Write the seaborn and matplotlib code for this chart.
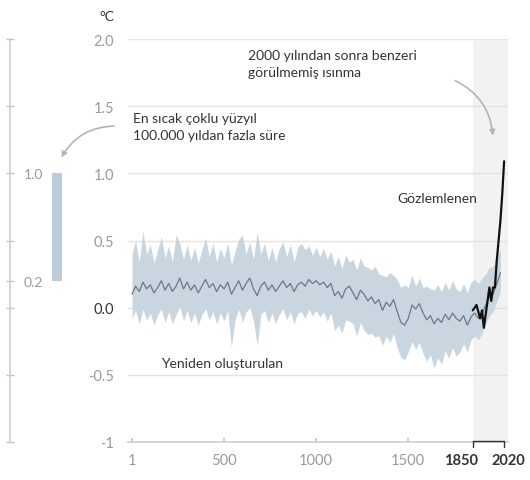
import matplotlib
matplotlib.use("Agg")
import matplotlib.pyplot as plt
import pandas as pd
import seaborn as sns

# Reconstructed temperature (20-year steps, year 1 to 2000)
recon_years = [1] + list(range(20, 2001, 20))
recon_mean = [
    0.10, 0.16, 0.12, 0.19, 0.14, 0.17, 0.11, 0.15, 0.20, 0.13,
    0.18, 0.12, 0.16, 0.22, 0.14, 0.19, 0.13, 0.17, 0.11, 0.16,
    0.21, 0.15, 0.18, 0.12, 0.17, 0.14, 0.19, 0.10, 0.15, 0.20,
    0.13, 0.18, 0.22, 0.14, 0.09, 0.16, 0.19, 0.13, 0.17, 0.12,
    0.16, 0.20, 0.15, 0.18, 0.12, 0.17, 0.19, 0.16, 0.21, 0.18,
    0.20, 0.17, 0.19, 0.15, 0.18, 0.09, 0.12, 0.07, 0.14, 0.16,
    0.11, 0.06, 0.13, 0.10, 0.05, 0.08, 0.03, 0.06, -0.02, 0.04,
    0.01, 0.06, -0.03, -0.11, -0.13, -0.08, 0.02, -0.01, 0.03, -0.04,
    -0.09, -0.06, -0.12, -0.08, -0.11, -0.05, -0.09, -0.04, -0.08, -0.10,
    -0.06, -0.13, -0.07, -0.04, -0.08, -0.05, 0.02, 0.08, 0.10, 0.18,
    0.26,
]
recon_upper = [
    0.40, 0.50, 0.34, 0.57, 0.40, 0.47, 0.33, 0.43, 0.53, 0.37,
    0.46, 0.34, 0.54, 0.48, 0.36, 0.47, 0.35, 0.45, 0.33, 0.43,
    0.52, 0.38, 0.48, 0.34, 0.44, 0.37, 0.48, 0.32, 0.42, 0.51,
    0.54, 0.40, 0.49, 0.36, 0.56, 0.40, 0.48, 0.35, 0.45, 0.34,
    0.44, 0.49, 0.38, 0.47, 0.34, 0.45, 0.48, 0.43, 0.46, 0.39,
    0.45, 0.38, 0.44, 0.36, 0.42, 0.31, 0.38, 0.29, 0.39, 0.34,
    0.36, 0.28, 0.37, 0.31, 0.30, 0.28, 0.31, 0.25, 0.24, 0.23,
    0.26, 0.24, 0.21, 0.15, 0.17, 0.15, 0.24, 0.16, 0.22, 0.15,
    0.16, 0.14, 0.13, 0.17, 0.12, 0.19, 0.13, 0.20, 0.14, 0.12,
    0.18, 0.11, 0.19, 0.21, 0.18, 0.22, 0.25, 0.30, 0.31, 0.38,
    0.44,
]
recon_lower = [
    -0.08, -0.02, -0.12, -0.01, -0.09, -0.04, -0.13, -0.05, -0.01, -0.11,
    -0.03, -0.12, -0.05, 0.01, -0.10, -0.02, -0.11, -0.04, -0.13, -0.05,
    -0.01, -0.09, -0.03, -0.12, -0.04, -0.10, -0.02, -0.29, -0.09, -0.01,
    -0.11, -0.03, 0.00, -0.10, -0.28, -0.05, -0.02, -0.11, -0.04, -0.12,
    -0.05, -0.01, -0.09, -0.03, -0.12, -0.04, -0.03, -0.08, -0.01, -0.06,
    -0.02, -0.07, -0.03, -0.10, -0.04, -0.17, -0.13, -0.19, -0.09, -0.10,
    -0.12, -0.21, -0.11, -0.17, -0.20, -0.19, -0.22, -0.21, -0.28, -0.21,
    -0.26, -0.19, -0.30, -0.37, -0.39, -0.33, -0.25, -0.31, -0.26, -0.34,
    -0.40, -0.35, -0.45, -0.37, -0.42, -0.32, -0.38, -0.30, -0.36, -0.33,
    -0.27, -0.33, -0.24, -0.21, -0.24, -0.19, -0.12, -0.06, -0.03, 0.05,
    0.12,
]

# Observed temperature, 1850-2020
obs_years = [1850, 1860, 1870, 1880, 1890, 1900, 1910, 1920, 1930,
             1940, 1950, 1960, 1970, 1980, 1990, 2000, 2010, 2020]
obs_temp = [-0.02, 0.00, 0.02, -0.03, -0.08, -0.02, -0.15, -0.05, 0.05,
            0.15, 0.05, 0.15, 0.15, 0.35, 0.50, 0.65, 0.85, 1.09]

# Warmest multi-century period range
warm_low = 0.2
warm_high = 1.0

y_ticks = [2.0, 1.5, 1.0, 0.5, 0.0, -0.5, -1]
y_labels = ["2.0", "1.5", "1.0", "0.5", "0.0", "-0.5", "-1"]
x_ticks = [1, 500, 1000, 1500]
x_labels = ["1", "500", "1000", "1500"]

recon = pd.DataFrame({"year": recon_years, "mean": recon_mean,
                      "lo": recon_lower, "hi": recon_upper})
obs = pd.DataFrame({"year": obs_years, "temp": obs_temp})

sns.set_theme(style="white")
plt.rcParams["font.family"] = ["Lato", "DejaVu Sans"]

grey_txt = "#9a9a9a"
dark_txt = "#333333"

fig = plt.figure(figsize=(5.3, 4.81), dpi=100)
ax = fig.add_axes([128 / 530, 38 / 481, 380 / 530, 403 / 481])
ax_l = fig.add_axes([10 / 530, 38 / 481, 70 / 530, 403 / 481])

# Main panel
ax.set_xlim(-21, 2041)
ax.set_ylim(-1, 2)
ax.axvspan(1850, 2041, color="#f2f2f2", lw=0, zorder=0)
for yt in y_ticks[:-1]:
    ax.axhline(yt, color="#e3e3e3", lw=1, zorder=0.5)
ax.fill_between(recon["year"], recon["lo"], recon["hi"],
                color="#c9d5df", lw=0, zorder=1)
sns.lineplot(data=recon, x="year", y="mean", ax=ax, color="#6a7988",
             lw=0.9, zorder=2)
sns.lineplot(data=obs, x="year", y="temp", ax=ax, color="#111111",
             lw=1.6, zorder=3)

for s in ["top", "right", "left"]:
    ax.spines[s].set_visible(False)
ax.spines["bottom"].set_color("#d0d0d0")
ax.set_xlabel("")
ax.set_ylabel("")
ax.set_yticks(y_ticks)
ax.set_yticklabels(y_labels, fontsize=10.5)
ax.set_xticks(x_ticks)
ax.set_xticklabels(x_labels, fontsize=10.5, color=grey_txt)
ax.tick_params(axis="y", length=0, pad=10)
ax.tick_params(axis="x", bottom=True, length=3, direction="in",
               color="#c8c8c8", pad=8)
for lab in ax.get_yticklabels():
    lab.set_color(dark_txt if lab.get_text() == "0.0" else grey_txt)

# bracket for 1850-2020 and bold labels
ax.plot([1850, 1850, 2020, 2020], [-1.04, -0.995, -0.995, -1.04],
        color="#333333", lw=1, clip_on=False, zorder=4)
ax.text(1880, -1.08, "1850", ha="right", va="top", fontsize=10.5,
        fontweight="bold", color=dark_txt)
ax.text(2045, -1.08, "2020", ha="center", va="top", fontsize=10.5,
        fontweight="bold", color=dark_txt)

ax.text(-135, 2.17, "°C", ha="center", va="center", fontsize=10,
        color=dark_txt, clip_on=False)
ax.text(160, -0.41, "Yeniden oluşturulan", fontsize=10, color=dark_txt,
        va="center")
ax.text(1440, 0.82, "Gözlemlenen", fontsize=10, color=dark_txt, va="center")
ax.text(630, 1.82, "2000 yılından sonra benzeri\ngörülmemiş ısınma",
        fontsize=10, color=dark_txt, va="center", linespacing=1.5)
ax.text(5, 1.35, "En sıcak çoklu yüzyıl\n100.000 yıldan fazla süre",
        fontsize=10, color=dark_txt, va="center", linespacing=1.5)
ax.annotate("", xy=(1960, 1.26), xytext=(1740, 1.70),
            arrowprops=dict(arrowstyle="-|>", color="#b5b5b5", lw=1.2,
                            connectionstyle="arc3,rad=-0.3",
                            mutation_scale=8))

# Left panel
ax_l.set_xlim(0, 70)
ax_l.set_ylim(-1, 2)
ax_l.bar([47], [warm_high - warm_low], bottom=warm_low, width=10,
         color="#bccbd8", lw=0)
for s in ["top", "right", "bottom"]:
    ax_l.spines[s].set_visible(False)
ax_l.spines["left"].set_color("#cfcfcf")
ax_l.set_xticks([])
ax_l.set_yticks([-1, -0.5, 0, 0.2, 0.5, 1.0, 1.5, 2.0])
ax_l.set_yticklabels(["", "", "", "0.2", "", "1.0", "", ""],
                     fontsize=10, color=grey_txt)
ax_l.tick_params(axis="y", left=True, direction="inout", length=6, width=1,
                 color="#c4c4c4", pad=-27)
ax_l.annotate("", xy=(50, 1.1), xycoords="data",
              xytext=(117, 481 - 127), textcoords="figure pixels",
              arrowprops=dict(arrowstyle="-|>", color="#b5b5b5", lw=1.2,
                              connectionstyle="arc3,rad=0.3",
                              mutation_scale=8))

fig.savefig("out.png", dpi=100)
